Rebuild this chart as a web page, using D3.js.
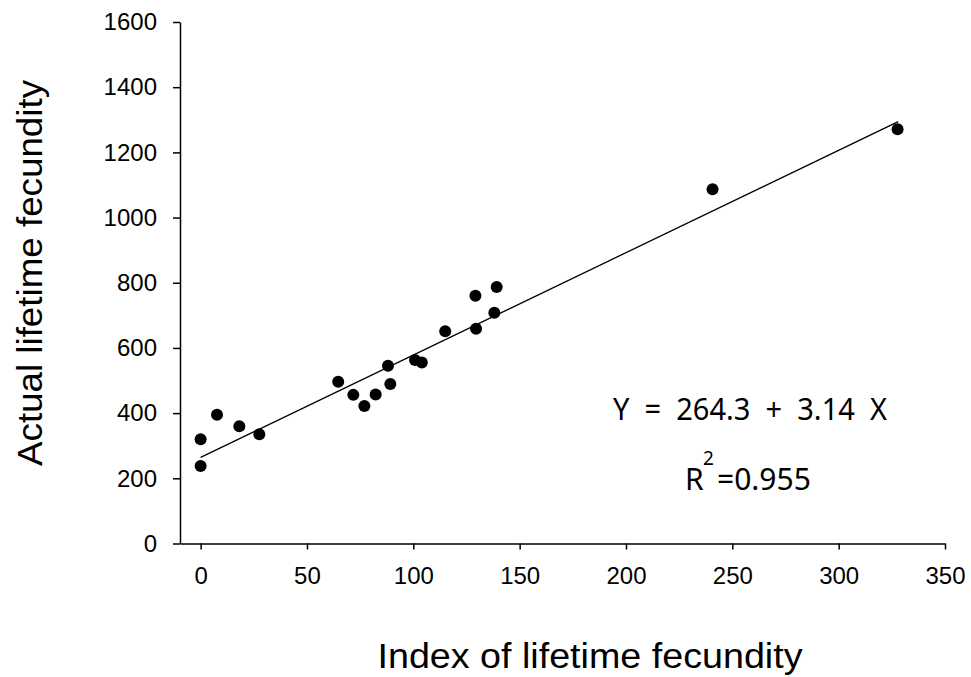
<!DOCTYPE html>
<html>
<head>
  <meta charset="UTF-8">
  <title>Lifetime fecundity</title>
  <style>
    body { margin: 0; background: #fff; }
    .axis path, .axis line { stroke: #000; stroke-width: 1.5; }
    .axis text { font-family: "Liberation Sans", Arial, sans-serif; font-size: 24px; fill: #000; }
  </style>
</head>
<body>
<svg id="chart"></svg>
<script src="https://d3js.org/d3.v7.min.js"></script>
<script>

// data
var indexVals  = [0, 0, 7.7, 18.2, 27.6, 64.7, 71.8, 77, 82.3, 89.2, 88.1, 100.8, 104, 115, 129.5, 129.2, 139.2, 138.1, 240.7, 327.7];
var actualVals = [320, 238, 395, 360, 335, 496, 456, 422, 457, 489, 545, 563, 555, 651, 659, 760, 787, 708, 1087, 1271];
var xTicks = [0, 50, 100, 150, 200, 250, 300, 350];
var yTicks = [0, 200, 400, 600, 800, 1000, 1200, 1400, 1600];
var fitIntercept = 264.3, fitSlope = 3.14;
var fitRange = [0, 328];

let width = 971, height = 677;

let svg = d3.select("#chart")
    .attr("width", width)
    .attr("height", height)

var x = d3.scaleLinear().domain([-9.7, 350]).range([180, 945]);
var y = d3.scaleLinear().domain([0, 1600]).range([543.5, 22]);

// x axis
svg.append("g")
    .attr("class", "axis")
    .attr("transform", "translate(0,543.5)")
    .call(d3.axisBottom(x).tickValues(xTicks).tickFormat(d3.format("d")).tickSize(6).tickSizeOuter(0).tickPadding(17))

// y axis
svg.append("g")
    .attr("class", "axis")
    .attr("transform", "translate(180,0)")
    .call(d3.axisLeft(y).tickValues(yTicks).tickFormat(d3.format("d")).tickSize(7).tickSizeOuter(0).tickPadding(16))

// regression line
svg.append("line")
    .attr("x1", x(fitRange[0]))
    .attr("y1", y(fitIntercept + fitSlope * fitRange[0]))
    .attr("x2", x(fitRange[1]))
    .attr("y2", y(fitIntercept + fitSlope * fitRange[1]))
    .style("stroke", "#000")
    .style("stroke-width", 1.3)

// points
svg.selectAll("circle")
    .data(indexVals)
    .enter()
    .append("circle")
    .attr("cx", function(d){ return x(d) })
    .attr("cy", function(d, i){ return y(actualVals[i]) })
    .attr("r", 6)
    .style("fill", "#000")

// axis titles
svg.append("text")
    .attr("x", 590)
    .attr("y", 668)
    .attr("text-anchor", "middle")
    .attr("textLength", 425)
    .attr("lengthAdjust", "spacingAndGlyphs")
    .style("font-family", "Liberation Sans, Arial, sans-serif")
    .style("font-size", "35px")
    .text("Index of lifetime fecundity")

svg.append("text")
    .attr("transform", "translate(42,273) rotate(-90)")
    .attr("text-anchor", "middle")
    .attr("textLength", 386)
    .attr("lengthAdjust", "spacingAndGlyphs")
    .style("font-family", "Liberation Sans, Arial, sans-serif")
    .style("font-size", "35px")
    .text("Actual lifetime fecundity")

// equation
svg.append("text")
    .attr("x", 613)
    .attr("y", 420)
    .attr("textLength", 274)
    .attr("lengthAdjust", "spacingAndGlyphs")
    .style("font-family", "Noto Sans, sans-serif")
    .style("font-size", "30px")
    .style("white-space", "pre")
    .text("Y  =  264.3  +  3.14  X")

var r2 = svg.append("text")
    .attr("x", 685)
    .attr("y", 490)
    .style("font-family", "Noto Sans, sans-serif")
    .style("font-size", "30px")
r2.append("tspan").text("R")
r2.append("tspan").attr("x", 703).attr("y", 465).style("font-size", "19px").text("2")
r2.append("tspan").attr("x", 717).attr("y", 490).text("=0.955")

</script>
</body>
</html>
